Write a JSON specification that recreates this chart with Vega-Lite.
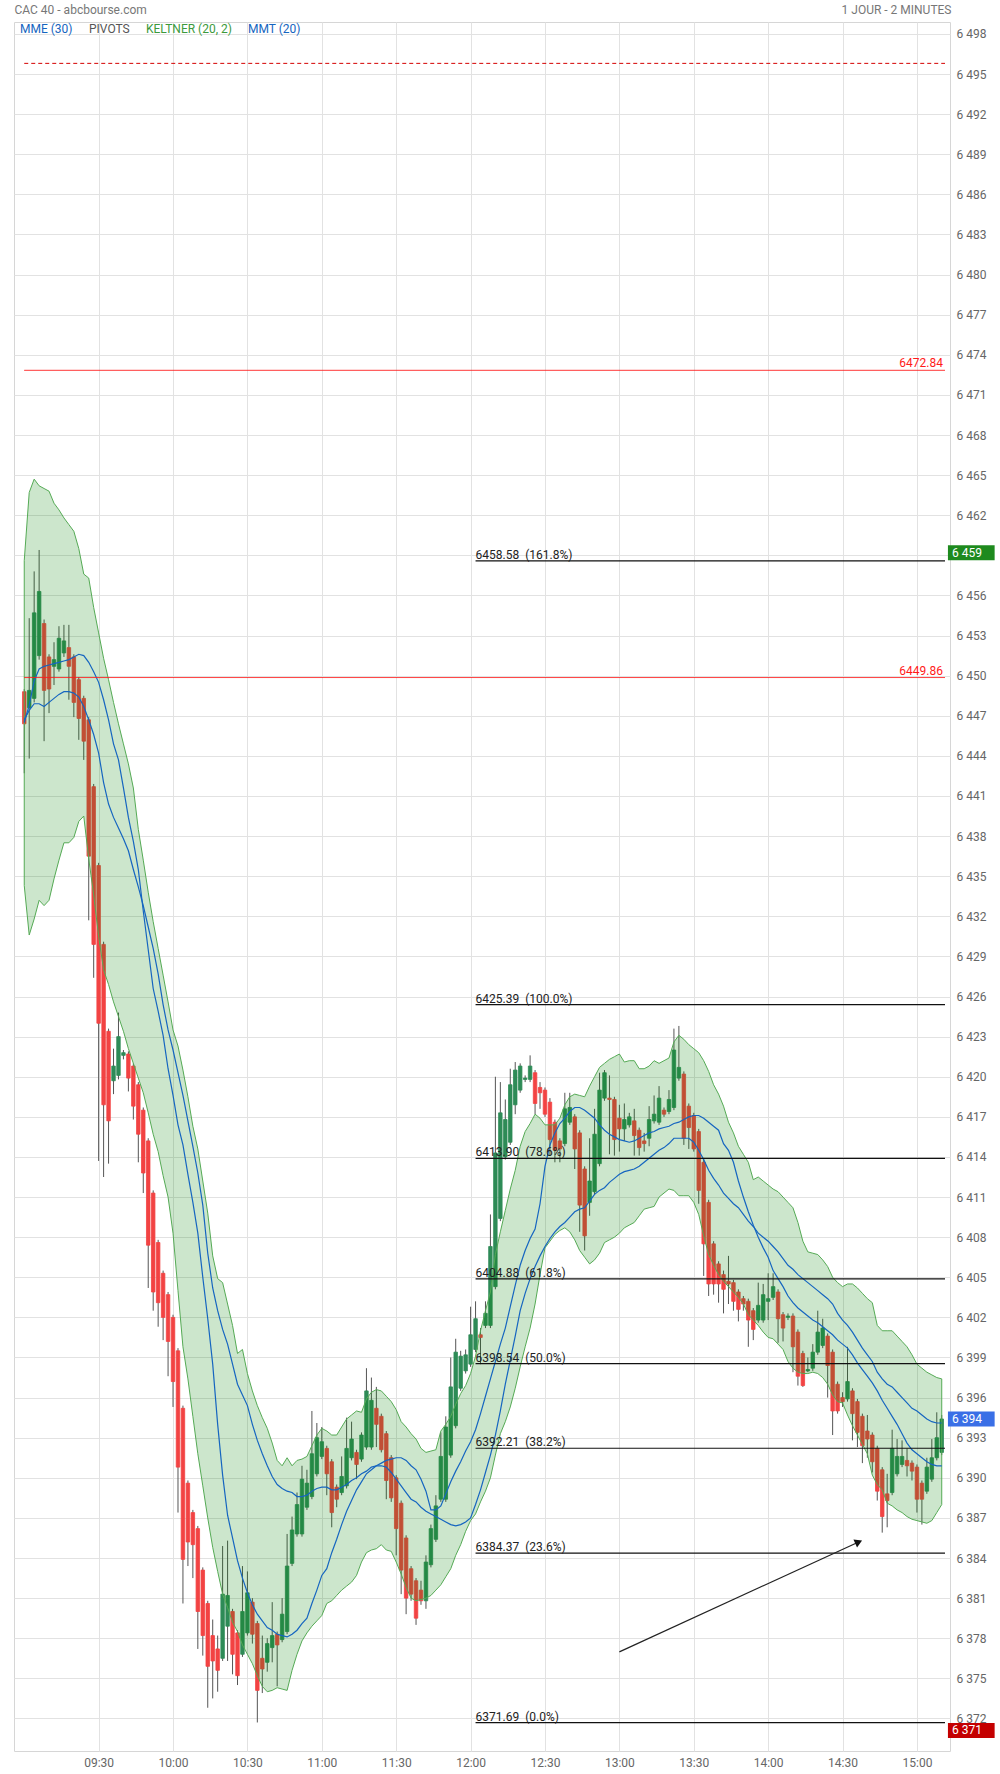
{
"$schema": "https://vega.github.io/schema/vega-lite/v6.json",
"width": 936, "height": 1729, "autosize": "none",
"padding": {"left": 14, "top": 22, "right": 50, "bottom": 23},
"background": "white",
"config": {"view": {"stroke": "#d6d6d6"}, "font": "Roboto",
 "axis": {"gridColor": "#e2e2e2", "labelColor": "#666", "labelFont": "Roboto", "labelFontSize": 12, "domain": false, "ticks": false}},
"data": {"name": "candles", "format": {"parse": {"t": "date:'%H:%M'"}}},
"datasets": {
"candles": [
{"t":"09:00","o":6448.8,"h":6449.0,"l":6442.7,"c":6446.4,"up":6458.6,"lo":6434.3,"a":6446.5,"b":6446.7},
{"t":"09:02","o":6447.6,"h":6454.3,"l":6443.8,"c":6448.9,"up":6463.7,"lo":6430.6,"a":6447.8,"b":6447.4},
{"t":"09:04","o":6448.3,"h":6457.8,"l":6448.0,"c":6454.7,"up":6464.7,"lo":6431.8,"a":6449.6,"b":6447.9},
{"t":"09:06","o":6451.5,"h":6459.4,"l":6451.2,"c":6456.3,"up":6464.2,"lo":6433.2,"a":6450.5,"b":6447.9},
{"t":"09:08","o":6453.9,"h":6454.2,"l":6445.1,"c":6448.9,"up":6464.0,"lo":6432.8,"a":6450.7,"b":6447.7},
{"t":"09:10","o":6451.4,"h":6451.6,"l":6447.2,"c":6449.0,"up":6463.8,"lo":6433.2,"a":6450.8,"b":6448.0},
{"t":"09:12","o":6450.7,"h":6452.5,"l":6449.3,"c":6451.2,"up":6462.9,"lo":6434.8,"a":6450.9,"b":6448.3},
{"t":"09:14","o":6450.5,"h":6453.7,"l":6450.3,"c":6452.8,"up":6462.4,"lo":6436.2,"a":6451.0,"b":6448.6},
{"t":"09:16","o":6451.7,"h":6453.8,"l":6451.4,"c":6452.6,"up":6461.8,"lo":6437.5,"a":6451.1,"b":6448.8},
{"t":"09:18","o":6452.1,"h":6453.8,"l":6448.2,"c":6450.7,"up":6461.3,"lo":6437.5,"a":6451.2,"b":6448.8},
{"t":"09:20","o":6451.4,"h":6451.6,"l":6446.9,"c":6448.0,"up":6460.8,"lo":6437.9,"a":6451.4,"b":6448.7},
{"t":"09:22","o":6449.7,"h":6449.9,"l":6445.2,"c":6446.8,"up":6459.5,"lo":6439.1,"a":6451.6,"b":6448.4},
{"t":"09:24","o":6448.3,"h":6448.5,"l":6443.7,"c":6445.1,"up":6457.6,"lo":6439.5,"a":6451.5,"b":6447.7},
{"t":"09:26","o":6446.7,"h":6446.9,"l":6431.7,"c":6436.5,"up":6457.3,"lo":6436.3,"a":6451.0,"b":6446.7},
{"t":"09:28","o":6441.7,"h":6441.9,"l":6427.4,"c":6429.9,"up":6455.1,"lo":6433.6,"a":6450.3,"b":6445.6},
{"t":"09:30","o":6435.8,"h":6436.0,"l":6413.7,"c":6424.0,"up":6453.2,"lo":6430.5,"a":6449.5,"b":6444.2},
{"t":"09:32","o":6429.9,"h":6430.1,"l":6412.5,"c":6417.9,"up":6451.3,"lo":6428.0,"a":6448.2,"b":6442.0},
{"t":"09:34","o":6423.4,"h":6423.6,"l":6413.5,"c":6416.7,"up":6449.7,"lo":6426.9,"a":6446.7,"b":6440.4},
{"t":"09:36","o":6419.7,"h":6422.1,"l":6418.7,"c":6420.8,"up":6448.0,"lo":6425.6,"a":6444.9,"b":6439.4},
{"t":"09:38","o":6420.1,"h":6424.8,"l":6419.8,"c":6423.0,"up":6446.4,"lo":6424.5,"a":6443.7,"b":6438.6},
{"t":"09:40","o":6421.6,"h":6422.0,"l":6421.3,"c":6421.8,"up":6444.9,"lo":6423.4,"a":6441.6,"b":6437.8},
{"t":"09:42","o":6421.7,"h":6421.9,"l":6418.9,"c":6419.9,"up":6443.4,"lo":6422.1,"a":6439.4,"b":6436.9},
{"t":"09:44","o":6420.8,"h":6421.0,"l":6416.8,"c":6417.8,"up":6441.6,"lo":6421.0,"a":6437.6,"b":6435.5},
{"t":"09:46","o":6419.4,"h":6419.6,"l":6413.6,"c":6415.7,"up":6438.5,"lo":6419.9,"a":6435.5,"b":6434.2},
{"t":"09:48","o":6417.5,"h":6417.7,"l":6411.3,"c":6412.8,"up":6436.2,"lo":6418.8,"a":6432.4,"b":6432.8},
{"t":"09:50","o":6415.2,"h":6415.4,"l":6404.2,"c":6407.4,"up":6433.8,"lo":6417.3,"a":6429.5,"b":6431.2},
{"t":"09:52","o":6411.3,"h":6411.5,"l":6402.5,"c":6403.9,"up":6431.6,"lo":6415.7,"a":6426.6,"b":6429.6},
{"t":"09:54","o":6407.6,"h":6407.8,"l":6401.3,"c":6403.1,"up":6429.6,"lo":6414.4,"a":6424.9,"b":6427.7},
{"t":"09:56","o":6405.3,"h":6405.5,"l":6400.3,"c":6402.0,"up":6427.6,"lo":6412.6,"a":6423.1,"b":6425.4},
{"t":"09:58","o":6403.7,"h":6403.9,"l":6397.6,"c":6400.2,"up":6425.6,"lo":6411.0,"a":6420.6,"b":6423.5},
{"t":"10:00","o":6402.0,"h":6402.2,"l":6395.3,"c":6397.2,"up":6423.5,"lo":6408.3,"a":6418.6,"b":6422.0},
{"t":"10:02","o":6399.5,"h":6399.7,"l":6387.4,"c":6390.8,"up":6422.3,"lo":6404.0,"a":6416.4,"b":6420.3},
{"t":"10:04","o":6395.2,"h":6395.4,"l":6380.6,"c":6383.9,"up":6420.5,"lo":6399.8,"a":6414.9,"b":6418.6},
{"t":"10:06","o":6389.6,"h":6389.8,"l":6383.4,"c":6385.2,"up":6418.5,"lo":6397.4,"a":6412.7,"b":6416.7},
{"t":"10:08","o":6387.4,"h":6387.6,"l":6382.5,"c":6385.0,"up":6416.3,"lo":6394.6,"a":6410.6,"b":6414.8},
{"t":"10:10","o":6386.2,"h":6386.4,"l":6377.2,"c":6380.0,"up":6414.6,"lo":6391.8,"a":6408.3,"b":6412.8},
{"t":"10:12","o":6383.1,"h":6383.3,"l":6376.7,"c":6378.2,"up":6412.2,"lo":6389.4,"a":6405.0,"b":6410.4},
{"t":"10:14","o":6380.6,"h":6380.8,"l":6372.8,"c":6375.9,"up":6409.8,"lo":6387.0,"a":6401.9,"b":6406.8},
{"t":"10:16","o":6378.2,"h":6379.4,"l":6373.5,"c":6376.3,"up":6406.6,"lo":6384.8,"a":6398.5,"b":6404.2},
{"t":"10:18","o":6377.2,"h":6378.2,"l":6374.0,"c":6375.6,"up":6404.9,"lo":6383.0,"a":6394.0,"b":6402.5},
{"t":"10:20","o":6376.5,"h":6384.9,"l":6376.3,"c":6381.3,"up":6404.6,"lo":6381.3,"a":6390.2,"b":6401.1},
{"t":"10:22","o":6378.9,"h":6385.3,"l":6376.3,"c":6381.2,"up":6403.0,"lo":6380.3,"a":6387.2,"b":6400.0},
{"t":"10:24","o":6380.0,"h":6380.2,"l":6375.3,"c":6376.8,"up":6401.4,"lo":6379.2,"a":6385.5,"b":6398.5},
{"t":"10:26","o":6378.4,"h":6378.6,"l":6374.5,"c":6375.2,"up":6399.3,"lo":6378.5,"a":6383.8,"b":6397.0},
{"t":"10:28","o":6376.8,"h":6383.4,"l":6376.6,"c":6380.0,"up":6399.6,"lo":6377.5,"a":6382.5,"b":6396.2},
{"t":"10:30","o":6378.4,"h":6383.0,"l":6378.2,"c":6381.4,"up":6397.8,"lo":6376.8,"a":6381.4,"b":6395.4},
{"t":"10:32","o":6380.7,"h":6381.0,"l":6377.6,"c":6378.3,"up":6396.5,"lo":6376.1,"a":6380.5,"b":6394.0},
{"t":"10:34","o":6379.1,"h":6379.3,"l":6371.7,"c":6374.1,"up":6395.4,"lo":6375.2,"a":6379.8,"b":6392.8},
{"t":"10:36","o":6376.5,"h":6378.2,"l":6373.9,"c":6375.7,"up":6394.5,"lo":6374.4,"a":6379.3,"b":6391.8},
{"t":"10:38","o":6376.2,"h":6378.0,"l":6375.5,"c":6377.6,"up":6393.7,"lo":6374.0,"a":6378.8,"b":6390.9},
{"t":"10:40","o":6377.3,"h":6380.7,"l":6376.2,"c":6378.2,"up":6392.6,"lo":6374.1,"a":6378.6,"b":6390.1},
{"t":"10:42","o":6378.3,"h":6378.5,"l":6374.4,"c":6377.5,"up":6391.3,"lo":6374.3,"a":6378.3,"b":6389.5},
{"t":"10:44","o":6377.9,"h":6381.0,"l":6377.7,"c":6379.8,"up":6390.9,"lo":6374.2,"a":6378.2,"b":6389.2},
{"t":"10:46","o":6378.5,"h":6385.8,"l":6378.3,"c":6383.4,"up":6391.5,"lo":6374.1,"a":6378.1,"b":6389.0},
{"t":"10:48","o":6383.6,"h":6387.1,"l":6383.4,"c":6386.1,"up":6390.9,"lo":6375.6,"a":6378.3,"b":6388.9},
{"t":"10:50","o":6385.8,"h":6388.9,"l":6385.6,"c":6388.0,"up":6391.3,"lo":6376.8,"a":6378.6,"b":6388.6},
{"t":"10:52","o":6385.8,"h":6390.9,"l":6385.6,"c":6389.9,"up":6391.4,"lo":6377.8,"a":6379.1,"b":6388.6},
{"t":"10:54","o":6387.8,"h":6390.6,"l":6387.6,"c":6389.6,"up":6391.6,"lo":6378.4,"a":6379.5,"b":6388.7},
{"t":"10:56","o":6388.6,"h":6395.0,"l":6388.4,"c":6391.8,"up":6392.4,"lo":6378.9,"a":6380.6,"b":6389.0},
{"t":"10:58","o":6390.3,"h":6394.1,"l":6390.1,"c":6393.0,"up":6393.2,"lo":6379.3,"a":6381.6,"b":6389.2},
{"t":"11:00","o":6391.6,"h":6393.8,"l":6391.4,"c":6392.7,"up":6393.7,"lo":6379.7,"a":6382.7,"b":6389.3},
{"t":"11:02","o":6392.2,"h":6392.4,"l":6388.7,"c":6390.3,"up":6393.5,"lo":6380.6,"a":6383.2,"b":6389.3},
{"t":"11:04","o":6391.2,"h":6391.4,"l":6386.3,"c":6387.4,"up":6393.2,"lo":6380.8,"a":6384.4,"b":6389.1},
{"t":"11:06","o":6389.3,"h":6389.5,"l":6387.8,"c":6388.4,"up":6393.2,"lo":6381.2,"a":6385.4,"b":6389.1},
{"t":"11:08","o":6388.9,"h":6391.6,"l":6388.7,"c":6390.1,"up":6393.8,"lo":6381.6,"a":6386.5,"b":6389.3},
{"t":"11:10","o":6389.4,"h":6394.5,"l":6389.2,"c":6392.2,"up":6394.4,"lo":6381.9,"a":6387.5,"b":6389.5},
{"t":"11:12","o":6391.5,"h":6394.2,"l":6391.3,"c":6392.9,"up":6394.7,"lo":6382.2,"a":6388.3,"b":6389.8},
{"t":"11:14","o":6391.9,"h":6392.1,"l":6389.9,"c":6391.0,"up":6395.0,"lo":6382.7,"a":6389.1,"b":6390.0},
{"t":"11:16","o":6391.4,"h":6393.4,"l":6391.2,"c":6393.2,"up":6394.9,"lo":6383.7,"a":6389.7,"b":6390.3},
{"t":"11:18","o":6392.3,"h":6398.2,"l":6392.1,"c":6396.5,"up":6395.9,"lo":6384.4,"a":6390.3,"b":6390.5},
{"t":"11:20","o":6392.3,"h":6397.5,"l":6392.1,"c":6395.8,"up":6396.4,"lo":6384.6,"a":6390.6,"b":6390.8},
{"t":"11:22","o":6395.2,"h":6396.8,"l":6392.3,"c":6394.0,"up":6396.6,"lo":6384.7,"a":6390.9,"b":6390.9},
{"t":"11:24","o":6394.6,"h":6394.8,"l":6391.9,"c":6392.1,"up":6396.5,"lo":6385.0,"a":6391.1,"b":6390.9},
{"t":"11:26","o":6393.3,"h":6393.5,"l":6388.4,"c":6389.8,"up":6396.1,"lo":6384.6,"a":6391.3,"b":6390.8},
{"t":"11:28","o":6391.5,"h":6391.7,"l":6388.2,"c":6388.5,"up":6395.7,"lo":6384.5,"a":6391.4,"b":6390.4},
{"t":"11:30","o":6390.0,"h":6390.2,"l":6384.2,"c":6386.2,"up":6395.1,"lo":6383.7,"a":6391.5,"b":6389.9},
{"t":"11:32","o":6388.1,"h":6388.3,"l":6381.3,"c":6383.1,"up":6394.2,"lo":6382.8,"a":6391.5,"b":6389.4},
{"t":"11:34","o":6385.5,"h":6385.7,"l":6379.8,"c":6381.0,"up":6393.8,"lo":6381.8,"a":6391.3,"b":6388.9},
{"t":"11:36","o":6383.2,"h":6383.4,"l":6380.8,"c":6381.3,"up":6393.3,"lo":6381.0,"a":6390.9,"b":6388.4},
{"t":"11:38","o":6382.3,"h":6382.5,"l":6379.0,"c":6379.5,"up":6392.9,"lo":6380.8,"a":6390.6,"b":6388.2},
{"t":"11:40","o":6381.6,"h":6382.3,"l":6380.5,"c":6380.8,"up":6392.2,"lo":6380.9,"a":6389.9,"b":6387.8},
{"t":"11:42","o":6380.8,"h":6384.2,"l":6380.2,"c":6383.7,"up":6391.9,"lo":6381.0,"a":6389.0,"b":6387.5},
{"t":"11:44","o":6383.5,"h":6386.5,"l":6383.3,"c":6386.2,"up":6392.0,"lo":6381.2,"a":6387.6,"b":6387.3},
{"t":"11:46","o":6385.4,"h":6388.7,"l":6385.2,"c":6387.9,"up":6392.1,"lo":6381.6,"a":6387.6,"b":6387.1},
{"t":"11:48","o":6388.4,"h":6393.4,"l":6388.2,"c":6391.6,"up":6393.5,"lo":6382.0,"a":6387.9,"b":6386.9},
{"t":"11:50","o":6388.4,"h":6394.6,"l":6388.2,"c":6393.8,"up":6394.0,"lo":6382.6,"a":6388.8,"b":6386.7},
{"t":"11:52","o":6391.7,"h":6399.0,"l":6391.5,"c":6396.8,"up":6394.6,"lo":6383.2,"a":6389.7,"b":6386.5},
{"t":"11:54","o":6393.9,"h":6400.4,"l":6393.7,"c":6399.4,"up":6395.5,"lo":6384.2,"a":6390.5,"b":6386.4},
{"t":"11:56","o":6396.7,"h":6399.5,"l":6396.5,"c":6399.1,"up":6396.3,"lo":6385.0,"a":6391.2,"b":6386.5},
{"t":"11:58","o":6398.0,"h":6399.6,"l":6397.8,"c":6399.2,"up":6396.9,"lo":6386.0,"a":6392.0,"b":6386.7},
{"t":"12:00","o":6398.5,"h":6402.8,"l":6398.3,"c":6400.7,"up":6397.8,"lo":6386.8,"a":6392.7,"b":6387.0},
{"t":"12:02","o":6399.6,"h":6403.2,"l":6399.4,"c":6401.9,"up":6399.1,"lo":6387.3,"a":6393.6,"b":6388.0},
{"t":"12:04","o":6400.7,"h":6401.2,"l":6398.5,"c":6400.5,"up":6401.0,"lo":6388.2,"a":6394.8,"b":6389.1},
{"t":"12:06","o":6401.4,"h":6403.2,"l":6401.2,"c":6402.3,"up":6402.5,"lo":6389.0,"a":6396.1,"b":6390.4},
{"t":"12:08","o":6401.4,"h":6409.7,"l":6401.2,"c":6407.3,"up":6403.9,"lo":6390.0,"a":6397.4,"b":6391.7},
{"t":"12:10","o":6404.3,"h":6420.0,"l":6404.1,"c":6414.3,"up":6406.7,"lo":6391.7,"a":6398.7,"b":6393.2},
{"t":"12:12","o":6409.4,"h":6419.6,"l":6409.2,"c":6417.3,"up":6408.4,"lo":6393.3,"a":6400.0,"b":6395.0},
{"t":"12:14","o":6414.0,"h":6418.3,"l":6413.8,"c":6416.8,"up":6410.0,"lo":6394.2,"a":6401.2,"b":6397.0},
{"t":"12:16","o":6415.1,"h":6420.6,"l":6414.9,"c":6419.4,"up":6411.6,"lo":6395.3,"a":6402.8,"b":6398.8},
{"t":"12:18","o":6417.9,"h":6421.1,"l":6417.2,"c":6420.5,"up":6413.0,"lo":6396.7,"a":6404.4,"b":6400.6},
{"t":"12:20","o":6419.0,"h":6421.0,"l":6418.8,"c":6420.8,"up":6414.8,"lo":6398.3,"a":6405.9,"b":6402.5},
{"t":"12:22","o":6419.8,"h":6420.1,"l":6419.6,"c":6419.9,"up":6415.9,"lo":6399.8,"a":6407.0,"b":6403.8},
{"t":"12:24","o":6419.8,"h":6421.6,"l":6419.6,"c":6420.8,"up":6416.5,"lo":6401.2,"a":6407.9,"b":6404.9},
{"t":"12:26","o":6420.3,"h":6420.5,"l":6417.2,"c":6418.0,"up":6417.2,"lo":6403.0,"a":6408.6,"b":6405.8},
{"t":"12:28","o":6419.2,"h":6419.6,"l":6417.6,"c":6418.8,"up":6416.9,"lo":6405.2,"a":6410.5,"b":6406.6},
{"t":"12:30","o":6419.0,"h":6419.2,"l":6417.0,"c":6417.2,"up":6416.4,"lo":6407.2,"a":6413.3,"b":6407.3},
{"t":"12:32","o":6418.1,"h":6418.4,"l":6414.1,"c":6415.3,"up":6416.4,"lo":6407.7,"a":6414.9,"b":6407.9},
{"t":"12:34","o":6416.6,"h":6416.8,"l":6413.6,"c":6414.5,"up":6416.4,"lo":6408.2,"a":6415.8,"b":6408.4},
{"t":"12:36","o":6415.2,"h":6415.4,"l":6413.6,"c":6414.6,"up":6416.9,"lo":6408.5,"a":6416.5,"b":6408.8},
{"t":"12:38","o":6415.0,"h":6418.8,"l":6414.8,"c":6417.6,"up":6417.9,"lo":6408.7,"a":6416.9,"b":6409.1},
{"t":"12:40","o":6416.6,"h":6418.8,"l":6416.4,"c":6417.7,"up":6418.5,"lo":6408.4,"a":6417.4,"b":6409.5},
{"t":"12:42","o":6417.0,"h":6417.2,"l":6413.1,"c":6414.6,"up":6418.7,"lo":6407.8,"a":6417.7,"b":6409.9},
{"t":"12:44","o":6415.8,"h":6416.0,"l":6408.4,"c":6410.4,"up":6418.6,"lo":6407.0,"a":6417.7,"b":6410.1},
{"t":"12:46","o":6413.1,"h":6413.3,"l":6407.0,"c":6408.1,"up":6418.5,"lo":6406.5,"a":6417.5,"b":6410.2},
{"t":"12:48","o":6410.6,"h":6415.4,"l":6409.6,"c":6412.2,"up":6419.3,"lo":6406.0,"a":6417.2,"b":6410.7},
{"t":"12:50","o":6411.4,"h":6417.6,"l":6411.2,"c":6415.7,"up":6420.0,"lo":6406.3,"a":6416.9,"b":6411.2},
{"t":"12:52","o":6413.5,"h":6420.3,"l":6413.3,"c":6419.0,"up":6420.7,"lo":6406.8,"a":6416.4,"b":6411.5},
{"t":"12:54","o":6418.4,"h":6420.5,"l":6418.2,"c":6420.3,"up":6421.0,"lo":6407.6,"a":6416.0,"b":6411.7},
{"t":"12:56","o":6418.4,"h":6420.1,"l":6414.2,"c":6418.3,"up":6421.3,"lo":6407.8,"a":6415.7,"b":6412.1},
{"t":"12:58","o":6418.3,"h":6418.5,"l":6414.1,"c":6415.3,"up":6421.5,"lo":6408.0,"a":6415.5,"b":6412.4},
{"t":"13:00","o":6416.9,"h":6417.9,"l":6414.4,"c":6416.1,"up":6421.7,"lo":6408.3,"a":6415.3,"b":6412.7},
{"t":"13:02","o":6416.1,"h":6418.0,"l":6415.2,"c":6416.8,"up":6421.1,"lo":6408.7,"a":6415.2,"b":6412.9},
{"t":"13:04","o":6416.4,"h":6417.3,"l":6416.2,"c":6417.0,"up":6421.2,"lo":6408.9,"a":6415.1,"b":6413.0},
{"t":"13:06","o":6416.7,"h":6417.6,"l":6414.1,"c":6415.6,"up":6421.2,"lo":6409.1,"a":6415.2,"b":6413.1},
{"t":"13:08","o":6416.0,"h":6416.2,"l":6414.1,"c":6414.7,"up":6420.6,"lo":6409.6,"a":6415.4,"b":6413.3},
{"t":"13:10","o":6415.2,"h":6415.8,"l":6414.4,"c":6415.0,"up":6420.6,"lo":6410.1,"a":6415.6,"b":6413.6},
{"t":"13:12","o":6415.4,"h":6417.8,"l":6414.8,"c":6416.8,"up":6420.8,"lo":6410.2,"a":6415.8,"b":6413.9},
{"t":"13:14","o":6416.7,"h":6418.6,"l":6416.5,"c":6417.2,"up":6421.2,"lo":6410.3,"a":6415.9,"b":6414.2},
{"t":"13:16","o":6416.6,"h":6419.3,"l":6416.4,"c":6418.4,"up":6421.0,"lo":6411.0,"a":6416.1,"b":6414.5},
{"t":"13:18","o":6417.5,"h":6417.7,"l":6417.0,"c":6417.2,"up":6421.2,"lo":6411.3,"a":6416.2,"b":6414.7},
{"t":"13:20","o":6417.4,"h":6419.0,"l":6417.2,"c":6418.3,"up":6421.4,"lo":6411.6,"a":6416.3,"b":6415.0},
{"t":"13:22","o":6417.7,"h":6423.6,"l":6417.5,"c":6422.0,"up":6422.6,"lo":6411.5,"a":6416.5,"b":6415.4},
{"t":"13:24","o":6419.9,"h":6423.8,"l":6419.7,"c":6420.7,"up":6423.1,"lo":6411.1,"a":6416.6,"b":6415.4},
{"t":"13:26","o":6420.2,"h":6420.4,"l":6414.9,"c":6415.4,"up":6422.8,"lo":6411.1,"a":6416.8,"b":6415.4},
{"t":"13:28","o":6417.8,"h":6418.0,"l":6414.6,"c":6416.2,"up":6422.4,"lo":6411.1,"a":6417.0,"b":6415.4},
{"t":"13:30","o":6417.1,"h":6417.3,"l":6414.4,"c":6414.6,"up":6422.1,"lo":6410.6,"a":6417.1,"b":6415.1},
{"t":"13:32","o":6415.9,"h":6416.1,"l":6410.5,"c":6411.5,"up":6421.8,"lo":6409.7,"a":6417.1,"b":6414.5},
{"t":"13:34","o":6413.6,"h":6413.8,"l":6405.1,"c":6407.5,"up":6421.2,"lo":6408.1,"a":6416.9,"b":6413.8},
{"t":"13:36","o":6410.6,"h":6410.8,"l":6403.6,"c":6404.5,"up":6420.4,"lo":6406.7,"a":6416.6,"b":6413.0},
{"t":"13:38","o":6407.5,"h":6407.7,"l":6403.7,"c":6404.5,"up":6419.4,"lo":6405.9,"a":6416.3,"b":6412.4},
{"t":"13:40","o":6406.0,"h":6406.2,"l":6403.1,"c":6404.5,"up":6418.7,"lo":6405.2,"a":6416.0,"b":6411.9},
{"t":"13:42","o":6405.2,"h":6405.5,"l":6402.3,"c":6404.1,"up":6417.8,"lo":6404.7,"a":6415.0,"b":6411.3},
{"t":"13:44","o":6404.7,"h":6406.6,"l":6403.0,"c":6404.5,"up":6416.6,"lo":6404.3,"a":6414.5,"b":6410.9},
{"t":"13:46","o":6404.6,"h":6404.8,"l":6402.5,"c":6403.2,"up":6415.8,"lo":6403.9,"a":6413.6,"b":6410.5},
{"t":"13:48","o":6403.9,"h":6404.1,"l":6401.7,"c":6402.6,"up":6414.8,"lo":6403.5,"a":6412.2,"b":6410.2},
{"t":"13:50","o":6403.4,"h":6403.6,"l":6402.5,"c":6403.0,"up":6414.2,"lo":6403.0,"a":6411.0,"b":6409.7},
{"t":"13:52","o":6403.2,"h":6403.4,"l":6399.8,"c":6401.8,"up":6413.6,"lo":6402.2,"a":6409.9,"b":6409.2},
{"t":"13:54","o":6402.5,"h":6402.7,"l":6400.3,"c":6401.1,"up":6412.3,"lo":6401.8,"a":6408.9,"b":6408.8},
{"t":"13:56","o":6401.8,"h":6404.6,"l":6401.6,"c":6402.9,"up":6412.5,"lo":6401.4,"a":6408.0,"b":6408.3},
{"t":"13:58","o":6401.8,"h":6404.5,"l":6401.6,"c":6403.7,"up":6412.2,"lo":6400.9,"a":6407.2,"b":6408.0},
{"t":"14:00","o":6403.2,"h":6405.3,"l":6401.8,"c":6403.4,"up":6411.9,"lo":6400.5,"a":6406.5,"b":6407.7},
{"t":"14:02","o":6403.5,"h":6405.3,"l":6403.3,"c":6404.3,"up":6411.6,"lo":6400.4,"a":6405.5,"b":6407.3},
{"t":"14:04","o":6403.9,"h":6404.1,"l":6400.1,"c":6401.9,"up":6411.4,"lo":6400.0,"a":6404.9,"b":6406.9},
{"t":"14:06","o":6402.2,"h":6402.4,"l":6400.2,"c":6401.2,"up":6411.0,"lo":6399.6,"a":6404.3,"b":6406.4},
{"t":"14:08","o":6402.0,"h":6402.3,"l":6401.8,"c":6402.1,"up":6410.6,"lo":6398.7,"a":6403.6,"b":6405.9},
{"t":"14:10","o":6402.1,"h":6402.3,"l":6397.9,"c":6399.8,"up":6410.2,"lo":6398.2,"a":6403.1,"b":6405.6},
{"t":"14:12","o":6400.9,"h":6401.1,"l":6396.9,"c":6397.6,"up":6409.1,"lo":6397.9,"a":6402.7,"b":6405.2},
{"t":"14:14","o":6399.3,"h":6399.5,"l":6396.8,"c":6396.9,"up":6407.7,"lo":6397.8,"a":6402.4,"b":6404.9},
{"t":"14:16","o":6398.0,"h":6399.0,"l":6397.9,"c":6398.1,"up":6406.9,"lo":6397.8,"a":6402.1,"b":6404.6},
{"t":"14:18","o":6398.2,"h":6400.0,"l":6398.0,"c":6399.4,"up":6406.8,"lo":6397.9,"a":6401.8,"b":6404.3},
{"t":"14:20","o":6399.4,"h":6402.5,"l":6399.2,"c":6400.9,"up":6406.7,"lo":6397.8,"a":6401.6,"b":6404.0},
{"t":"14:22","o":6399.9,"h":6401.9,"l":6399.7,"c":6401.2,"up":6406.3,"lo":6397.5,"a":6401.3,"b":6403.7},
{"t":"14:24","o":6400.6,"h":6400.8,"l":6396.0,"c":6398.4,"up":6405.8,"lo":6397.0,"a":6401.0,"b":6403.4},
{"t":"14:26","o":6399.4,"h":6399.6,"l":6393.2,"c":6395.0,"up":6405.0,"lo":6396.2,"a":6400.7,"b":6403.0},
{"t":"14:28","o":6397.0,"h":6397.2,"l":6394.8,"c":6395.0,"up":6404.6,"lo":6395.7,"a":6400.3,"b":6402.3},
{"t":"14:30","o":6396.0,"h":6396.4,"l":6395.3,"c":6395.7,"up":6404.3,"lo":6395.6,"a":6400.0,"b":6401.8},
{"t":"14:32","o":6395.9,"h":6399.8,"l":6395.7,"c":6397.2,"up":6404.5,"lo":6394.7,"a":6399.7,"b":6401.4},
{"t":"14:34","o":6396.5,"h":6396.7,"l":6392.8,"c":6394.8,"up":6404.5,"lo":6393.9,"a":6399.2,"b":6400.9},
{"t":"14:36","o":6395.7,"h":6395.9,"l":6392.3,"c":6393.4,"up":6404.2,"lo":6393.2,"a":6398.6,"b":6400.3},
{"t":"14:38","o":6394.6,"h":6394.8,"l":6391.1,"c":6392.4,"up":6403.8,"lo":6392.5,"a":6398.1,"b":6399.7},
{"t":"14:40","o":6393.5,"h":6394.7,"l":6391.5,"c":6392.9,"up":6403.4,"lo":6391.8,"a":6397.6,"b":6399.2},
{"t":"14:42","o":6393.2,"h":6393.4,"l":6390.4,"c":6391.2,"up":6403.1,"lo":6390.2,"a":6397.1,"b":6398.7},
{"t":"14:44","o":6392.2,"h":6392.4,"l":6388.3,"c":6389.0,"up":6401.4,"lo":6389.5,"a":6396.5,"b":6397.9},
{"t":"14:46","o":6390.6,"h":6390.8,"l":6385.9,"c":6387.1,"up":6401.0,"lo":6389.1,"a":6395.8,"b":6397.4},
{"t":"14:48","o":6388.8,"h":6390.3,"l":6386.3,"c":6388.3,"up":6401.0,"lo":6388.1,"a":6395.2,"b":6397.0},
{"t":"14:50","o":6388.9,"h":6393.6,"l":6388.7,"c":6392.2,"up":6401.0,"lo":6387.9,"a":6394.6,"b":6396.8},
{"t":"14:52","o":6390.3,"h":6392.9,"l":6390.1,"c":6391.6,"up":6400.6,"lo":6387.6,"a":6394.0,"b":6396.4},
{"t":"14:54","o":6391.0,"h":6392.8,"l":6390.8,"c":6391.6,"up":6400.2,"lo":6387.4,"a":6393.3,"b":6396.0},
{"t":"14:56","o":6391.3,"h":6392.2,"l":6390.1,"c":6390.9,"up":6399.8,"lo":6387.1,"a":6392.6,"b":6395.6},
{"t":"14:58","o":6391.1,"h":6391.3,"l":6389.8,"c":6390.5,"up":6399.2,"lo":6386.9,"a":6392.1,"b":6395.2},
{"t":"15:00","o":6390.8,"h":6391.0,"l":6387.4,"c":6388.4,"up":6398.5,"lo":6386.8,"a":6391.8,"b":6395.0},
{"t":"15:02","o":6389.6,"h":6389.8,"l":6386.5,"c":6388.4,"up":6398.2,"lo":6386.7,"a":6391.5,"b":6394.7},
{"t":"15:04","o":6389.0,"h":6391.5,"l":6388.8,"c":6390.8,"up":6397.9,"lo":6386.6,"a":6391.2,"b":6394.4},
{"t":"15:06","o":6389.9,"h":6392.9,"l":6389.7,"c":6391.5,"up":6397.7,"lo":6386.8,"a":6391.0,"b":6394.2},
{"t":"15:08","o":6391.5,"h":6394.9,"l":6391.3,"c":6393.0,"up":6397.5,"lo":6387.4,"a":6390.9,"b":6394.1},
{"t":"15:10","o":6391.9,"h":6394.7,"l":6391.7,"c":6394.4,"up":6397.4,"lo":6388.0,"a":6390.9,"b":6394.1}
],
"pivots": [
{"v": 6495.8, "kind": "dash"},
{"v": 6472.84, "kind": "solid", "label": "6472.84"},
{"v": 6449.86, "kind": "solid", "label": "6449.86"}
],
"fibs": [
{"v": 6458.58, "label": "6458.58\u00a0 (161.8%)"},
{"v": 6425.39, "label": "6425.39\u00a0 (100.0%)"},
{"v": 6413.90, "label": "6413.90\u00a0 (78.6%)"},
{"v": 6404.88, "label": "6404.88\u00a0 (61.8%)"},
{"v": 6398.54, "label": "6398.54\u00a0 (50.0%)"},
{"v": 6392.21, "label": "6392.21\u00a0 (38.2%)"},
{"v": 6384.37, "label": "6384.37\u00a0 (23.6%)"},
{"v": 6371.69, "label": "6371.69\u00a0 (0.0%)"}
],
"arrow": [
{"t": "13:00:00", "v": 6376.98},
{"t": "14:36:30", "v": 6385.2}
],
"arrowhead": [
{"t": "14:36:30", "v": 6385.2}
],
"tags": [
{"v": 6459.2, "label": "6 459", "bg": "#1e8a1e"},
{"v": 6394.4, "label": "6 394", "bg": "#3a6fe6"},
{"v": 6371.1, "label": "6 371", "bg": "#c40000"}
]
},
"layer": [
{"mark": {"type": "rule", "color": "#555555", "strokeWidth": 1},
 "encoding": {
  "x": {"field": "t", "type": "temporal",
   "scale": {"domain": [{"year":1900,"month":1,"date":1,"hours":8,"minutes":57,"seconds":53},{"year":1900,"month":1,"date":1,"hours":15,"minutes":11,"seconds":19}]},
   "axis": {"format": "%H:%M", "grid": true, "labelPadding": 6,
    "title": "CAC 40 - abcbourse.com", "titleX": 0, "titleY": -1738, "titleAngle": 0, "titleAlign": "left", "titleAnchor": "start", "titleBaseline": "alphabetic",
    "titleFontWeight": "normal", "titleColor": "#777", "titleFontSize": 12, "titleFont": "Roboto",
    "values": [{"year":1900,"month":1,"date":1,"hours":9,"minutes":30},{"year":1900,"month":1,"date":1,"hours":10,"minutes":0},{"year":1900,"month":1,"date":1,"hours":10,"minutes":30},{"year":1900,"month":1,"date":1,"hours":11,"minutes":0},{"year":1900,"month":1,"date":1,"hours":11,"minutes":30},{"year":1900,"month":1,"date":1,"hours":12,"minutes":0},{"year":1900,"month":1,"date":1,"hours":12,"minutes":30},{"year":1900,"month":1,"date":1,"hours":13,"minutes":0},{"year":1900,"month":1,"date":1,"hours":13,"minutes":30},{"year":1900,"month":1,"date":1,"hours":14,"minutes":0},{"year":1900,"month":1,"date":1,"hours":14,"minutes":30},{"year":1900,"month":1,"date":1,"hours":15,"minutes":0}]}},
  "y": {"field": "l", "type": "quantitative",
   "scale": {"domain": [6369.94, 6498.52], "nice": false, "zero": false},
   "axis": {"orient": "right", "grid": true, "labelPadding": 6,
    "values": [6372,6375,6378,6381,6384,6387,6390,6393,6396,6399,6402,6405,6408,6411,6414,6417,6420,6423,6426,6429,6432,6435,6438,6441,6444,6447,6450,6453,6456,6459,6462,6465,6468,6471,6474,6477,6480,6483,6486,6489,6492,6495,6498],
    "labelExpr": "datum.value == 6459 ? '' : replace(format(datum.value, ','), ',', ' ')",
    "title": "1 JOUR - 2 MINUTES", "titleAngle": 0, "titleAlign": "right", "titleBaseline": "alphabetic",
    "titleX": 1, "titleY": -9, "titleFontWeight": "normal", "titleColor": "#777", "titleFontSize": 12, "titleFont": "Roboto"}},
  "y2": {"field": "h"}
 }},
{"mark": {"type": "bar", "size": 3.5, "strokeWidth": 0.8},
 "encoding": {
  "x": {"field": "t", "type": "temporal"},
  "y": {"field": "o", "type": "quantitative"},
  "y2": {"field": "c"},
  "color": {"condition": {"test": "datum.c >= datum.o", "value": "#2e8b57"}, "value": "#f24343"},
  "stroke": {"condition": {"test": "datum.c >= datum.o", "value": "#2e8b57"}, "value": "#f24343"}
 }},
{"mark": {"type": "area", "fill": "#008000", "fillOpacity": 0.2, "stroke": "#55aa55", "strokeWidth": 1},
 "encoding": {
  "x": {"field": "t", "type": "temporal"},
  "y": {"field": "up", "type": "quantitative"},
  "y2": {"field": "lo"}
 }},
{"mark": {"type": "line", "strokeWidth": 1.2},
 "encoding": {
  "x": {"field": "t", "type": "temporal"},
  "y": {"field": "a", "type": "quantitative"},
  "color": {"datum": "MMT (20)",
   "scale": {"domain": ["MME (30)", "PIVOTS", "KELTNER (20, 2)", "MMT (20)"], "range": ["#1565c0", "#555555", "#3c9a3c", "#1565c0"]},
   "legend": {"orient": "none", "legendX": -6, "legendY": 1, "direction": "horizontal", "title": null,
    "symbolSize": 0, "symbolOpacity": 0, "symbolStrokeWidth": 0, "labelOffset": 0, "columnPadding": 4,
    "labelFontSize": 12, "labelFont": "Roboto", "padding": 0,
    "encode": {"labels": {"update": {"fill": {"scale": "color", "field": "value"}}}}}}
 }},
{"mark": {"type": "line", "strokeWidth": 1.2},
 "encoding": {
  "x": {"field": "t", "type": "temporal"},
  "y": {"field": "b", "type": "quantitative"},
  "color": {"datum": "MME (30)"}
 }},
{"data": {"name": "pivots"},
 "mark": {"type": "rule", "strokeWidth": 1},
 "encoding": {
  "x": {"datum": {"year":1900,"month":1,"date":1,"hours":9,"minutes":0}},
  "x2": {"datum": {"year":1900,"month":1,"date":1,"hours":15,"minutes":11,"seconds":19}},
  "y": {"field": "v", "type": "quantitative"},
  "stroke": {"condition": {"test": "datum.kind === 'dash'", "value": "#d40000"}, "value": "#ff1a1a"},
  "strokeDash": {"condition": {"test": "datum.kind === 'dash'", "value": [4, 3]}, "value": [1, 0]}
 }},
{"data": {"name": "pivots"},
 "transform": [{"filter": "datum.label"}],
 "mark": {"type": "text", "align": "right", "baseline": "alphabetic", "dx": -2, "dy": -3, "fontSize": 12, "fill": "#ff1a1a", "font": "Roboto"},
 "encoding": {
  "x": {"datum": {"year":1900,"month":1,"date":1,"hours":15,"minutes":11,"seconds":19}},
  "y": {"field": "v", "type": "quantitative"},
  "text": {"field": "label"}
 }},
{"data": {"name": "fibs"},
 "mark": {"type": "rule", "stroke": "#111111", "strokeWidth": 1.2},
 "encoding": {
  "x": {"datum": {"year":1900,"month":1,"date":1,"hours":12,"minutes":2}},
  "x2": {"datum": {"year":1900,"month":1,"date":1,"hours":15,"minutes":11,"seconds":19}},
  "y": {"field": "v", "type": "quantitative"}
 }},
{"data": {"name": "fibs"},
 "mark": {"type": "text", "align": "left", "baseline": "alphabetic", "dy": -2, "fontSize": 12, "fill": "#222222", "font": "Roboto"},
 "encoding": {
  "x": {"datum": {"year":1900,"month":1,"date":1,"hours":12,"minutes":2}},
  "y": {"field": "v", "type": "quantitative"},
  "text": {"field": "label"}
 }},
{"data": {"name": "arrow", "format": {"parse": {"t": "date:'%H:%M:%S'"}}},
 "mark": {"type": "line", "stroke": "#222222", "strokeWidth": 1.2},
 "encoding": {
  "x": {"field": "t", "type": "temporal"},
  "y": {"field": "v", "type": "quantitative"}
 }},
{"data": {"name": "arrowhead", "format": {"parse": {"t": "date:'%H:%M:%S'"}}},
 "mark": {"type": "point", "shape": "triangle-right", "filled": true, "fill": "#111111", "size": 75, "angle": 335.5, "opacity": 1},
 "encoding": {
  "x": {"field": "t", "type": "temporal"},
  "y": {"field": "v", "type": "quantitative"}
 }},
{"data": {"name": "tags"},
 "mark": {"type": "bar", "size": 15, "clip": false},
 "encoding": {
  "x": {"datum": {"year":1900,"month":1,"date":1,"hours":15,"minutes":12,"seconds":30}},
  "x2": {"datum": {"year":1900,"month":1,"date":1,"hours":15,"minutes":31,"seconds":20}},
  "y": {"field": "v", "type": "quantitative"},
  "fill": {"field": "bg", "type": "nominal", "scale": null, "legend": null}
 }},
{"data": {"name": "tags"},
 "mark": {"type": "text", "align": "left", "baseline": "middle", "dx": 4, "fontSize": 12, "fill": "white", "font": "Roboto", "clip": false},
 "encoding": {
  "x": {"datum": {"year":1900,"month":1,"date":1,"hours":15,"minutes":12,"seconds":30}},
  "y": {"field": "v", "type": "quantitative"},
  "text": {"field": "label"}
 }}
]
}
